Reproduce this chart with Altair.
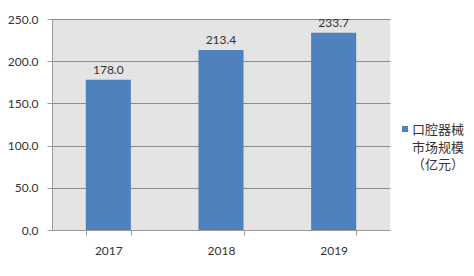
import altair as alt
import pandas as pd

years = ["2017", "2018", "2019"]
values = [178.0, 213.4, 233.7]
series = ["口腔器械市场规模（亿元）"] * 3
legend_lines = ["口腔器械", "市场规模", "（亿元）"]

df = pd.DataFrame({"year": years, "value": values, "series": series})

NUM_FONT = "Lato, 'Noto Sans CJK SC'"
CJK_FONT = "'Noto Sans CJK SC'"

base = alt.Chart(df)

bars = base.mark_bar(stroke=None).encode(
    x=alt.X("year:N", title=None,
            scale=alt.Scale(paddingInner=0.6, paddingOuter=0.3),
            axis=alt.Axis(labelAngle=0, tickBand="extent", domainColor="#9a9a9a",
                          tickColor="#9a9a9a", tickSize=5, labelPadding=10,
                          labelFont=NUM_FONT, labelFontSize=12, labelColor="#333333",
                          grid=False)),
    y=alt.Y("value:Q", title=None,
            scale=alt.Scale(domain=[0, 250], nice=False),
            axis=alt.Axis(values=[0, 50, 100, 150, 200, 250], format=".1f",
                          domainColor="#9a9a9a", tickColor="#9a9a9a", tickSize=5,
                          labelPadding=9, labelFont=NUM_FONT, labelFontSize=12,
                          labelColor="#333333", grid=True, gridColor="#8c8c8c",
                          gridWidth=1)),
    color=alt.Color("series:N",
                    scale=alt.Scale(range=["#4f81bd"]),
                    legend=alt.Legend(orient="none", legendX=348, legendY=105,
                                      title=legend_lines, titleOrient="right",
                                      titleFont=CJK_FONT, titleFontSize=13,
                                      titleFontWeight="normal", titleColor="#333333",
                                      titleLineHeight=17.5, titleAnchor="start",
                                      titleBaseline="top", titlePadding=2,
                                      symbolType="square", symbolSize=36,
                                      symbolStrokeWidth=0, padding=0,
                                      labelExpr="''", labelLimit=1, labelOffset=0)),
)

labels = base.mark_text(baseline="bottom", dy=-3, font=NUM_FONT, fontSize=12,
                        color="#333333").encode(
    x="year:N",
    y="value:Q",
    text=alt.Text("value:Q", format=".1f"),
)

chart = (bars + labels).properties(
    width=338, height=211,
    padding={"left": 52, "top": 19, "right": 84, "bottom": 46},
    autosize=alt.AutoSizeParams(type="none"),
    background="white",
).configure_view(fill="#e4e4e4", stroke=None)

chart.save("out.html", embed_options={"renderer": "svg", "actions": False})
